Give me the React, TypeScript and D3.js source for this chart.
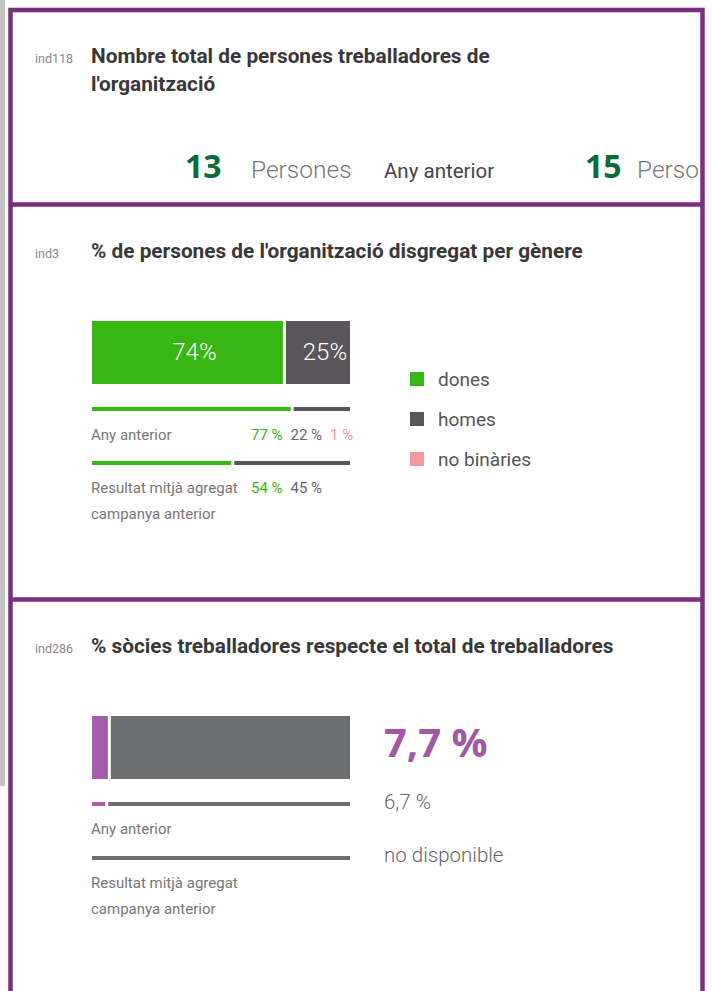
import React from "react";
import * as d3 from "d3";

// ---- data ----
const workersIndicator = "ind118";
const workersTitle = ["Nombre total de persones treballadores de", "l'organització"];
const workersCurrent = 13;
const workersPrevious = 15;
const workersUnit = "Persones";
const previousLabel = "Any anterior";

const genderIndicator = "ind3";
const genderTitle = "% de persones de l'organització disgregat per gènere";
const genderCategories = ["dones", "homes", "no binàries"];
const genderCurrent = [74, 25];
const genderPrevious = [77, 22, 1];
const genderAggregate = [54, 45];
const aggregateLabel = ["Resultat mitjà agregat", "campanya anterior"];

const partnersIndicator = "ind286";
const partnersTitle = "% sòcies treballadores respecte el total de treballadores";
const partnersCurrent = 7.7;
const partnersPrevious = 6.7;
const partnersAggregateText = "no disponible";

// ---- style ----
const genderColors = ["#37b614", "#5a555b", "#f4989b"];
const partnerColors = ["#a25ea6", "#6d6e72"];
const border = "#7a2e7c";
const titleFont = "Roboto, 'Noto Sans', sans-serif";
const bodyFont = "Roboto, 'Noto Sans', sans-serif";
const numFont = "'Open Sans', 'Noto Sans', sans-serif";

const fmtComma = (v: number) => d3.format(".1f")(v).replace(".", ",") + " %";

// stacked segments shifted by a gap, clipped at the end of the track
function shiftedSegments(values: number[], x: d3.ScaleLinear<number, number>, gap: number, maxX: number) {
  const cum = [0, ...Array.from(d3.cumsum(values))];
  return values.map((v, i) => {
    const x0 = x(cum[i]) + gap * i;
    const x1 = Math.min(maxX, x0 + x(v) - x(0));
    return { i, v, x0, x1, w: Math.max(0, x1 - x0) };
  });
}

// stacked segments with a gap cut out between them
function gappedSegments(values: number[], x: d3.ScaleLinear<number, number>, gapL: number, gapR: number, maxX: number) {
  const cum = [0, ...Array.from(d3.cumsum(values))];
  return values.map((v, i) => {
    const x0 = x(cum[i]) + (i > 0 ? gapR : 0);
    const x1 = Math.min(maxX, x(cum[i + 1]) - (i < values.length - 1 ? gapL : 0));
    return { i, v, x0, x1, w: Math.max(0, x1 - x0) };
  });
}

function Title({ x, y, text }: { x: number; y: number; text: string }) {
  return (
    <text x={x} y={y} fontFamily={titleFont} fontWeight={700} fontSize={20.8} fill="#383838">
      {text}
    </text>
  );
}

export default function App() {
  const x = d3.scaleLinear().domain([0, 100]).range([92, 350]);
  const maxX = x(100);

  const gCur = shiftedSegments(genderCurrent, x, 3, maxX);
  const gPrev = shiftedSegments(genderPrevious, x, 3, maxX);
  const gAgg = shiftedSegments(genderAggregate, x, 3, maxX);

  const pCur = gappedSegments([partnersCurrent, 100 - partnersCurrent], x, 4, -1, maxX);
  const pPrev = gappedSegments([partnersPrevious, 100 - partnersPrevious], x, 4, -1, maxX);

  const valCol = (i: number) => 251 + i * 39.5;

  return (
    <svg
      width={712}
      height={991}
      style={{ position: "absolute", left: 0, top: 0, background: "#fff" }}
    >
      <defs>
        <clipPath id="box1clip">
          <rect x={12} y={12} width={688} height={190} />
        </clipPath>
      </defs>
      {/* left grey strip */}
      <rect x={0} y={0} width={5} height={786} fill="#c4c4c4" />

      {/* ---------- Box 1 ---------- */}
      <text x={35} y={63} fontFamily={bodyFont} fontSize={12.5} fill="#888">{workersIndicator}</text>
      {workersTitle.map((t, i) => (
        <Title key={i} x={91} y={63 + i * 28} text={t} />
      ))}
      <g clipPath="url(#box1clip)">
        <text x={185} y={178} fontFamily={numFont} fontWeight={700} fontSize={32} fill="#0b6b38">{workersCurrent}</text>
        <text x={251} y={178} fontFamily={bodyFont} fontWeight={300} fontSize={24.5} fill="#777">{workersUnit}</text>
        <text x={384} y={178} fontFamily={bodyFont} fontSize={20.5} fill="#444">{previousLabel}</text>
        <text x={585} y={178} fontFamily={numFont} fontWeight={700} fontSize={32} fill="#0b6b38">{workersPrevious}</text>
        <text x={637} y={178} fontFamily={bodyFont} fontWeight={300} fontSize={24.5} fill="#777">{workersUnit}</text>
      </g>

      {/* ---------- Box 2 ---------- */}
      <text x={35} y={258} fontFamily={bodyFont} fontSize={12.5} fill="#888">{genderIndicator}</text>
      <Title x={91} y={258} text={genderTitle} />
      {gCur.map((s) => (
        <g key={s.i}>
          <rect x={s.x0} y={321} width={s.w} height={63} fill={genderColors[s.i]} />
          {s.w > 30 && (
            <text x={s.x0 + s.w / 2 + 7} y={360} textAnchor="middle" fontFamily={bodyFont} fontWeight={300} fontSize={24} fill="#fff">{s.v}%</text>
          )}
        </g>
      ))}
      {gPrev.map((s) => (
        <rect key={s.i} x={s.x0} y={407} width={s.w} height={4} fill={genderColors[s.i]} />
      ))}
      <text x={91} y={440} fontFamily={bodyFont} fontSize={15} fill="#777">{previousLabel}</text>
      {genderPrevious.map((v, i) => (
        <text key={i} x={valCol(i)} y={440} fontFamily={bodyFont} fontSize={15} fill={i === 1 ? "#666" : genderColors[i]}>{v} %</text>
      ))}
      {gAgg.map((s) => (
        <rect key={s.i} x={s.x0} y={461} width={s.w} height={4} fill={genderColors[s.i]} />
      ))}
      {aggregateLabel.map((t, i) => (
        <text key={i} x={91} y={493 + i * 26} fontFamily={bodyFont} fontSize={15} fill="#777">{t}</text>
      ))}
      {genderAggregate.map((v, i) => (
        <text key={i} x={valCol(i)} y={493} fontFamily={bodyFont} fontSize={15} fill={i === 1 ? "#666" : genderColors[i]}>{v} %</text>
      ))}
      {genderCategories.map((c, i) => (
        <g key={c}>
          <rect x={410} y={372 + i * 40} width={14} height={14} fill={genderColors[i]} />
          <text x={438} y={386 + i * 40} fontFamily={bodyFont} fontSize={19} fill="#555">{c}</text>
        </g>
      ))}

      {/* ---------- Box 3 ---------- */}
      <text x={35} y={653} fontFamily={bodyFont} fontSize={12.5} fill="#888">{partnersIndicator}</text>
      <Title x={91} y={653} text={partnersTitle} />
      {pCur.map((s) => (
        <rect key={s.i} x={s.x0} y={716} width={s.w} height={63} fill={partnerColors[s.i]} />
      ))}
      <text x={384} y={757} fontFamily={numFont} fontWeight={700} fontSize={40} fill="#a05aa5">{fmtComma(partnersCurrent)}</text>
      {pPrev.map((s) => (
        <rect key={s.i} x={s.x0} y={802} width={s.w} height={4} fill={partnerColors[s.i]} />
      ))}
      <text x={384} y={809} fontFamily={bodyFont} fontWeight={300} fontSize={20.5} fill="#666">{fmtComma(partnersPrevious)}</text>
      <text x={91} y={834} fontFamily={bodyFont} fontSize={15} fill="#777">{previousLabel}</text>
      <rect x={x(0)} y={856} width={x(100) - x(0)} height={4} fill={partnerColors[1]} />
      <text x={384} y={862} fontFamily={bodyFont} fontWeight={300} fontSize={20.5} fill="#666">{partnersAggregateText}</text>
      {aggregateLabel.map((t, i) => (
        <text key={i} x={91} y={888 + i * 26} fontFamily={bodyFont} fontSize={15} fill="#777">{t}</text>
      ))}

      {/* ---------- borders ---------- */}
      <rect x={10.5} y={10} width={692} height={1100} fill="none" stroke={border} strokeWidth={4.5} />
      <line x1={10} x2={703} y1={204.5} y2={204.5} stroke={border} strokeWidth={4.5} />
      <line x1={10} x2={703} y1={599.5} y2={599.5} stroke={border} strokeWidth={4.5} />
    </svg>
  );
}
